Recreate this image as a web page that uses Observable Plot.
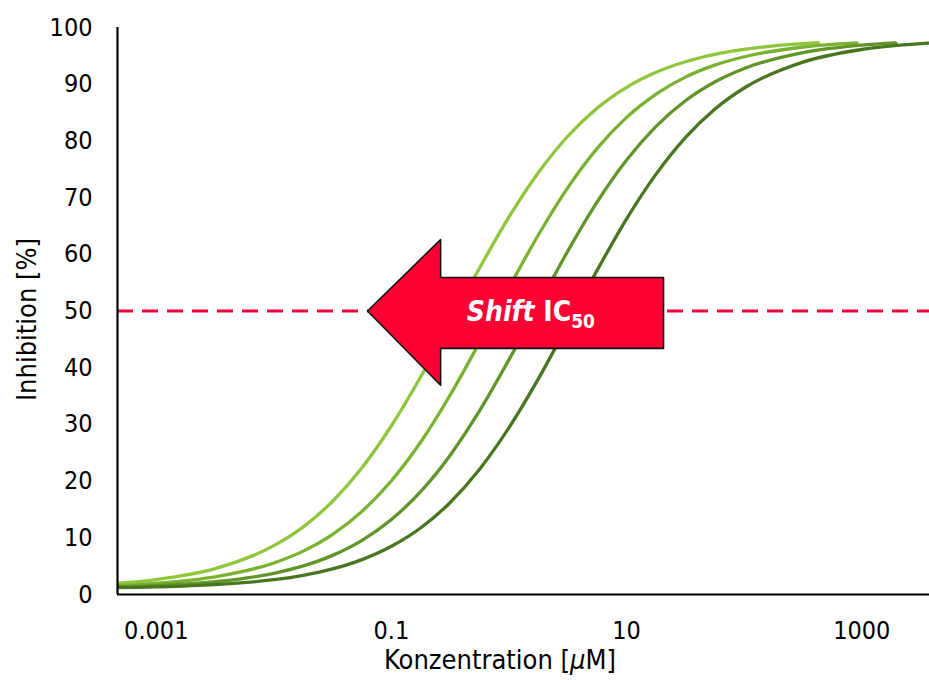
<!DOCTYPE html>
<html>
<head>
<meta charset="utf-8">
<script src="https://cdn.jsdelivr.net/npm/d3@7"></script>
<script src="https://cdn.jsdelivr.net/npm/@observablehq/plot@0.6"></script>
<style>
  html, body { margin: 0; padding: 0; background: #fff; }
  #chart { width: 929px; height: 680px; }
</style>
</head>
<body>
<div id="chart"></div>
<script>
// Concentration grid (µM) shared by the curves
const concGrid = [0.000316, 0.001, 0.00316, 0.01, 0.0178, 0.0316, 0.0562, 0.1, 0.178, 0.316, 0.562, 1, 1.78, 3.16, 5.62, 10, 17.8, 31.6, 56.2, 100, 316, 1000, 3162, 5623];

// Inhibition [%] for the four curves (lightest -> darkest)
const curveA = [1.74, 2.64, 4.57, 8.61, 11.92, 16.45, 22.37, 29.76, 38.44, 47.95, 57.58, 66.59, 74.43, 80.82, 85.78, 89.45, 92.10, 93.96, 95.26, 96.14, 97.16, null, null, null];
const curveB = [1.43, 1.96, 3.10, 5.56, 7.65, 10.60, 14.66, 20.06, 26.93, 35.19, 44.48, 54.14, 63.45, 71.76, 78.69, 84.15, 88.25, 91.25, 93.36, 94.84, 96.56, null, null, null];
const curveC = [1.26, 1.57, 2.25, 3.74, 5.04, 6.90, 9.55, 13.23, 18.18, 24.57, 32.41, 41.42, 51.05, 60.56, 69.24, 76.63, 82.56, 87.08, 90.39, 92.77, 95.58, 96.90, null, null];
const curveD = [1.15, 1.33, 1.73, 2.61, 3.39, 4.51, 6.15, 8.50, 11.77, 16.23, 22.10, 29.44, 38.08, 47.57, 57.20, 66.25, 74.14, 80.59, 85.60, 89.33, 93.90, 96.12, 97.14, 97.40];

// last point of each curve (where the line stops)
const curveEndConc = [427, 912, 1950, null];
const curveEndValue = [97.31, 97.30, 97.30, null];

const seriesNames = ["A", "B", "C", "D"];
const seriesColors = ["#8fc63c", "#78b22f", "#629528", "#4b7620"];

// axis ticks
const xTicks = [0.001, 0.1, 10, 1000];
const yTicks = [0, 10, 20, 30, 40, 50, 60, 70, 80, 90, 100];

// reference level
const ic50Level = [50];

// arrow annotation outline in data space (concentration, inhibition)
const arrowConc = [0.0626, 0.262, 0.262, 20.6, 20.6, 0.262, 0.262];
const arrowInh  = [50, 62.6, 55.9, 55.9, 43.4, 43.4, 36.9];
const arrowLabelConc = 1.55;

// build table
const all = [curveA, curveB, curveC, curveD];
const rows = [];
all.forEach((vals, i) => {
  vals.forEach((v, j) => { if (v != null) rows.push({series: seriesNames[i], x: concGrid[j], y: v}); });
  if (curveEndConc[i] != null) rows.push({series: seriesNames[i], x: curveEndConc[i], y: curveEndValue[i]});
});
rows.sort((a, b) => a.series.localeCompare(b.series) || a.x - b.x);
const arrowPts = arrowConc.map((c, i) => ({x: c, y: arrowInh[i]}));

const FONT = "'DejaVu Sans Condensed', 'DejaVu Sans', sans-serif";

const plot = Plot.plot({
  width: 929,
  height: 680,
  marginLeft: 117,
  marginRight: 0,
  marginTop: 27,
  marginBottom: 86,
  style: {fontFamily: FONT, fontSize: "25px", color: "#000", background: "#fff", fontStretch: "condensed"},
  x: {type: "log", domain: [0.000468, 3767], ticks: xTicks, tickFormat: d => String(d), tickSize: 0, tickPadding: 27, label: null},
  y: {domain: [0, 100], ticks: yTicks, tickSize: 0, tickPadding: 25, label: null},
  color: {domain: seriesNames, range: seriesColors},
  marks: [
    Plot.line(rows, {x: "x", y: "y", z: "series", stroke: "series", strokeWidth: 3.3, curve: "monotone-x", clip: true}),
    Plot.ruleY(ic50Level, {stroke: "#f0063a", strokeWidth: 3, strokeDasharray: "16,9"}),
    Plot.line(arrowPts, {x: "x", y: "y", curve: "linear-closed", fill: "#ff0033", stroke: "#111", strokeWidth: 1.6}),
    Plot.ruleY([0], {stroke: "#000", strokeWidth: 2.2}),
    Plot.ruleX([0.000468], {y1: 0, y2: 100, stroke: "#000", strokeWidth: 2.2})
  ]
});

const svg = d3.select(plot);
const xs = plot.scale("x"), ys = plot.scale("y");

// arrow label
const lab = svg.append("text")
  .attr("x", xs.apply(arrowLabelConc)).attr("y", ys.apply(50) + 10)
  .attr("text-anchor", "middle").attr("fill", "#fff")
  .attr("font-family", FONT).attr("font-weight", "bold").attr("font-size", 28);
lab.append("tspan").attr("font-style", "italic").text("Shift");
lab.append("tspan").text(" IC");
lab.append("tspan").attr("font-size", 19).attr("dy", 7).text("50");

// axis titles
const xt = svg.append("text")
  .attr("x", 500).attr("y", 669).attr("text-anchor", "middle")
  .attr("font-family", FONT).attr("font-size", 27);
xt.append("tspan").text("Konzentration [");
xt.append("tspan").attr("font-style", "italic").text("µ");
xt.append("tspan").text("M]");

svg.append("text")
  .attr("transform", `translate(36,${ys.apply(50) + 9}) rotate(-90)`)
  .attr("text-anchor", "middle")
  .attr("font-family", FONT).attr("font-size", 27)
  .text("Inhibition [%]");

document.getElementById("chart").appendChild(plot);
</script>
</body>
</html>
